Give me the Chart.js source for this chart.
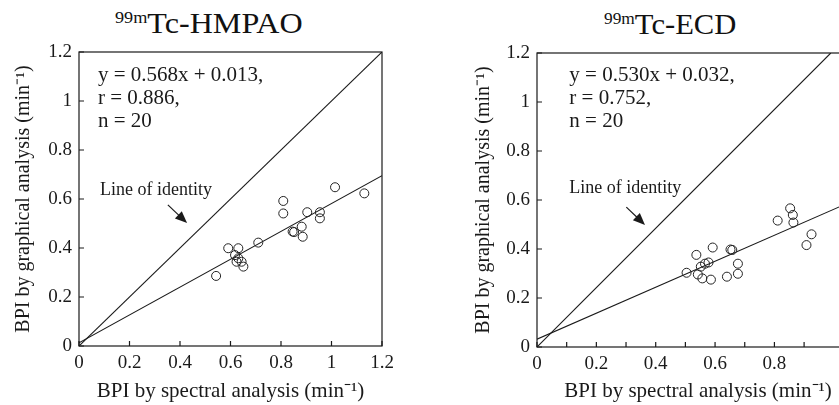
<!DOCTYPE html>
<html>
<head>
<meta charset="utf-8">
<script src="https://cdn.jsdelivr.net/npm/chart.js@4.4.0/dist/chart.umd.min.js"></script>
<style>
html, body { margin: 0; padding: 0; background: #fff; overflow: hidden; width: 839px; height: 405px; }
.title { position: absolute; font-size: 30px; line-height: 30px; color: #111; white-space: nowrap; transform-origin: left top; }
.title span { font-size: 17px; position: relative; top: -10px; }
canvas { position: absolute; top: 0; }
</style>
</head>
<body>
<div class="title" style='left:115px;top:8px;font-family:"Liberation Serif";transform:scaleX(1.07)'><span>99m</span>Tc-HMPAO</div>
<div class="title" style='left:604px;top:9px;font-family:"Liberation Serif";transform:scaleX(1.02)'><span>99m</span>Tc-ECD</div>
<canvas id="hmpao" width="420" height="405" style="left:0"></canvas>
<canvas id="ecd" width="407" height="405" style="left:458px"></canvas>
<script>
// values
const hmpaoX = [0.543, 0.591, 0.618, 0.624, 0.631, 0.631, 0.644, 0.651, 0.710, 0.809, 0.809, 0.846, 0.852, 0.882, 0.886, 0.904, 0.954, 0.954, 1.014, 1.130];
const hmpaoY = [0.286, 0.399, 0.371, 0.344, 0.358, 0.399, 0.344, 0.324, 0.422, 0.592, 0.541, 0.467, 0.465, 0.487, 0.446, 0.546, 0.546, 0.521, 0.648, 0.623];
const ecdX = [0.504, 0.537, 0.542, 0.557, 0.552, 0.566, 0.578, 0.586, 0.592, 0.640, 0.652, 0.658, 0.677, 0.677, 0.811, 0.853, 0.862, 0.864, 0.908, 0.925];
const ecdY = [0.303, 0.376, 0.296, 0.280, 0.328, 0.340, 0.345, 0.275, 0.406, 0.287, 0.398, 0.396, 0.340, 0.299, 0.516, 0.566, 0.539, 0.508, 0.416, 0.460];

// line end points as drawn
const hmpaoIdentity = [[0, 0], [1.2, 1.2]];
const hmpaoFit = [[0, 0.013], [1.2, 0.695]];
const ecdIdentity = [[0, 0], [0.99, 1.2]];
const ecdFit = [[0, 0.032], [1.2, 0.668]];

const hmpaoText = ['y = 0.568x + 0.013,', 'r = 0.886,', 'n = 20'];
const ecdText = ['y = 0.530x + 0.032,', 'r = 0.752,', 'n = 20'];

const yTicks = [0, 0.2, 0.4, 0.6, 0.8, 1, 1.2];
const xTitle = 'BPI by spectral analysis (min\u207B\u00B9)';
const yTitle = 'BPI by graphical analysis (min\u207B\u00B9)';

const serif = '"Liberation Serif"';
const ink = '#1a1a1a';

function pts(xs, ys) {
    let out = [];
    for (let i = 0; i < xs.length; i++) out.push({x: xs[i], y: ys[i]});
    return out;
}
function seg(p) {
    return p.map(q => ({x: q[0], y: q[1]}));
}

const paperPlugin = {
    id: 'paper',
    afterDatasetsDraw(chart, args, o) {
        const {ctx, chartArea: a} = chart;
        const sx = chart.scales.x, sy = chart.scales.y;
        ctx.save();
        ctx.strokeStyle = ink;
        ctx.lineWidth = 1.2;
        ctx.strokeRect(a.left, a.top, a.right - a.left, a.bottom - a.top);
        ctx.beginPath();
        sx.ticks.forEach(t => {
            let p = sx.getPixelForValue(t.value);
            ctx.moveTo(p, a.bottom);
            ctx.lineTo(p, a.bottom - 5);
        });
        sy.ticks.forEach(t => {
            let p = sy.getPixelForValue(t.value);
            ctx.moveTo(a.left, p);
            ctx.lineTo(a.left + 5, p);
        });
        ctx.stroke();

        ctx.fillStyle = ink;
        ctx.textAlign = 'left';
        ctx.textBaseline = 'middle';
        ctx.font = '21px ' + serif;
        let nx = sx.getPixelForValue(o.noteAt[0]), ny = sy.getPixelForValue(o.noteAt[1]);
        o.lines.forEach((s, i) => ctx.fillText(s, nx, ny + i * 23));

        ctx.font = '18px ' + serif;
        ctx.fillText('Line of identity', sx.getPixelForValue(o.labelAt[0]), sy.getPixelForValue(o.labelAt[1]));

        // arrow
        let x0 = sx.getPixelForValue(o.arrow[0][0]), y0 = sy.getPixelForValue(o.arrow[0][1]);
        let x1 = sx.getPixelForValue(o.arrow[1][0]), y1 = sy.getPixelForValue(o.arrow[1][1]);
        let ang = Math.atan2(y1 - y0, x1 - x0);
        ctx.lineWidth = 1.2;
        ctx.beginPath();
        ctx.moveTo(x0, y0);
        ctx.lineTo(x1 - 9 * Math.cos(ang), y1 - 9 * Math.sin(ang));
        ctx.stroke();
        ctx.beginPath();
        ctx.moveTo(x1, y1);
        ctx.lineTo(x1 - 12 * Math.cos(ang) + 5 * Math.sin(ang), y1 - 12 * Math.sin(ang) - 5 * Math.cos(ang));
        ctx.lineTo(x1 - 12 * Math.cos(ang) - 5 * Math.sin(ang), y1 - 12 * Math.sin(ang) + 5 * Math.cos(ang));
        ctx.closePath();
        ctx.fill();
        ctx.restore();
    }
};

function makeChart(id, c) {
    return new Chart(document.getElementById(id), {
        type: 'scatter',
        data: {
            datasets: [{
                data: pts(c.xs, c.ys),
                pointStyle: 'circle',
                pointRadius: 4.5,
                pointBorderWidth: 1,
                borderColor: '#222',
                backgroundColor: 'rgba(0,0,0,0)'
            }, {
                data: seg(c.identity),
                showLine: true,
                pointRadius: 0,
                borderColor: ink,
                borderWidth: 1.1
            }, {
                data: seg(c.fit),
                showLine: true,
                pointRadius: 0,
                borderColor: ink,
                borderWidth: 1.1
            }]
        },
        options: {
            responsive: false,
            animation: false,
            events: [],
            layout: {autoPadding: false, padding: {top: c.top, right: c.right, left: 0, bottom: 0}},
            scales: {
                x: {
                    type: 'linear', min: 0, max: c.xMax,
                    grid: {display: false, drawTicks: false},
                    border: {display: false},
                    afterFit: s => { s.height = 405 - c.bottom; },
                    ticks: {
                        stepSize: c.xStep,
                        padding: 6,
                        color: ink,
                        font: {family: serif, size: 19},
                        callback: v => {
                            let m = Math.abs(v * 5 - Math.round(v * 5)) < 1e-6;
                            return m && v <= c.labelMax ? String(+v.toFixed(1)) : '';
                        }
                    },
                    title: {display: true, text: xTitle, color: ink, font: {family: serif, size: 21}, padding: {top: 0, bottom: 1}}
                },
                y: {
                    type: 'linear', min: 0, max: 1.2,
                    grid: {display: false, drawTicks: false},
                    border: {display: false},
                    afterFit: s => { s.width = 79; },
                    afterBuildTicks: s => { s.ticks = yTicks.map(v => ({value: v})); },
                    ticks: {
                        padding: 7,
                        color: ink,
                        font: {family: serif, size: 19},
                        callback: v => String(v)
                    },
                    title: {display: true, text: yTitle, color: ink, font: {family: serif, size: 20}, padding: {top: c.yTitlePad, bottom: 0}}
                }
            },
            plugins: {
                legend: {display: false},
                tooltip: {enabled: false},
                paper: {lines: c.text, noteAt: c.noteAt, labelAt: c.labelAt, arrow: c.arrow}
            }
        },
        plugins: [paperPlugin]
    });
}

makeChart('hmpao', {
    xs: hmpaoX, ys: hmpaoY, identity: hmpaoIdentity, fit: hmpaoFit, text: hmpaoText,
    xMax: 1.2, xStep: 0.2, labelMax: 1.2, top: 52, right: 38, bottom: 346, yTitlePad: 12,
    noteAt: [0.075, 1.105], labelAt: [0.083, 0.637], arrow: [[0.352, 0.576], [0.428, 0.502]]
});
makeChart('ecd', {
    xs: ecdX, ys: ecdY, identity: ecdIdentity, fit: ecdFit, text: ecdText,
    xMax: 1.085, xStep: 0.1, labelMax: 0.9, top: 53, right: 0, bottom: 347, yTitlePad: 14,
    noteAt: [0.109, 1.11], labelAt: [0.109, 0.647], arrow: [[0.301, 0.571], [0.364, 0.498]]
});
</script>
</body>
</html>
